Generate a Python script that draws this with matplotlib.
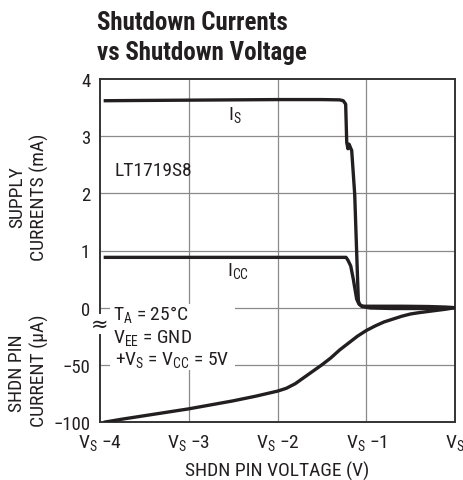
import matplotlib
matplotlib.use("Agg")
import matplotlib.pyplot as plt
from matplotlib.patches import Rectangle
from matplotlib import font_manager as fm
import matplotlib.transforms as mtransforms

_names = {f.name for f in fm.fontManager.ttflist}
FONT = "Liberation Sans"
for cand in ["Nimbus Sans Narrow", "Liberation Sans Narrow", "Arial Narrow",
             "Roboto Condensed", "Archivo Narrow", "PT Sans Narrow",
             "Barlow Semi Condensed"]:
    if cand in _names:
        FONT = cand
        break
plt.rcParams["font.family"] = [FONT, "DejaVu Sans"]
plt.rcParams["mathtext.default"] = "regular"
plt.rcParams["mathtext.fontset"] = "custom"
plt.rcParams["mathtext.rm"] = FONT
plt.rcParams["mathtext.it"] = FONT
plt.rcParams["mathtext.bf"] = FONT + ":bold"

# ---------------- data ----------------
# Supply current I_S (mA) vs SHDN pin voltage (V relative to V_S)
v_is = [-3.94, -3.5, -3.0, -2.5, -2.0, -1.5, -1.30, -1.259, -1.232, -1.220, -1.206,
        -1.194, -1.164, -1.13, -1.10, -1.089, -1.075, -1.06, -1.045, -1.02, -0.9,
        -0.6, -0.3, -0.1, 0.0]
is_ma = [3.62, 3.625, 3.63, 3.635, 3.64, 3.64, 3.635, 3.62, 3.56, 2.89, 2.78,
         2.86, 2.75, 1.98, 0.60, 0.12, 0.06, 0.04, 0.03, 0.025, 0.025,
         0.025, 0.02, 0.01, 0.0]

# Supply current I_CC (mA)
v_icc = [-3.94, -3.0, -2.0, -1.5, -1.228, -1.206, -1.175, -1.146, -1.108, -1.083,
         -1.048, -0.958, -0.7, -0.4, -0.2, 0.0]
icc_ma = [0.88, 0.88, 0.88, 0.88, 0.88, 0.83, 0.73, 0.50, 0.15, 0.065,
          0.02, -0.005, -0.015, -0.015, -0.01, 0.0]

# SHDN pin current (uA)
v_shdn = [-3.94, -3.75, -3.5, -3.25, -3.0, -2.75, -2.5, -2.25, -2.0, -1.9, -1.8,
          -1.7, -1.6, -1.5, -1.4, -1.3, -1.2, -1.1, -1.0, -0.9, -0.8, -0.7,
          -0.6, -0.5, -0.4, -0.3, -0.2, -0.1, 0.0]
shdn_ua = [-100, -97.5, -94.5, -91.5, -88.5, -85, -81.5, -77.5, -73, -70.5, -66.5,
           -61, -55.5, -50, -44, -37, -31, -25, -20, -16, -12.5, -10,
           -7.5, -5.5, -4.3, -3.3, -2.3, -1.3, 0]

UA_PER_UNIT = 50.0  # lower panel: 1 grid division = 50 uA

x_ticks = [-4, -3, -2, -1, 0]
x_ticklabels = [r"V$_S$ −4", r"V$_S$ −3", r"V$_S$ −2", r"V$_S$ −1", r"V$_S$"]
y_ticks = [4, 3, 2, 1, 0, -1, -2]
y_ticklabels = ["4", "3", "2", "1", "0", "−50", "−100"]

# ---------------- figure ----------------
W, H = 464, 481
fig = plt.figure(figsize=(W / 100, H / 100), dpi=100)
ax = fig.add_axes([100 / W, 58 / H, 355 / W, 343 / H])

INK = "#231f20"
GRID = "#8a8a8a"

ax.set_xlim(-4, 0)
ax.set_ylim(-2, 4)
ax.set_xticks(x_ticks)
ax.set_xticklabels(x_ticklabels)
ax.set_yticks(y_ticks)
ax.set_yticklabels(y_ticklabels)
ax.tick_params(axis="both", length=0, colors=INK)
ax.tick_params(axis="y", pad=7, labelsize=13.5)
ax.tick_params(axis="x", pad=7, labelsize=14)

for gx in [-3, -2, -1]:
    ax.axvline(gx, color=GRID, lw=0.9, zorder=1)
for gy in [3, 2, 1, 0, -1]:
    ax.axhline(gy, color=GRID, lw=0.9, zorder=1)

for sp in ax.spines.values():
    sp.set_color("#333333")
    sp.set_linewidth(1.4)

# white mask behind the conditions text
ax.add_patch(Rectangle((-3.887, -1.09), 1.408, 1.154, facecolor="white",
                       edgecolor="none", zorder=2))

ax.plot(v_is, is_ma, color=INK, lw=2.4, zorder=4, solid_joinstyle="round")
ax.plot(v_icc, icc_ma, color=INK, lw=2.4, zorder=4, solid_joinstyle="round")
ax.plot(v_shdn, [u / UA_PER_UNIT for u in shdn_ua], color=INK, lw=2.4, zorder=4)

fs = 14
ax.text(-2.558, 3.30, r"I$_S$", fontsize=fs, color=INK, ha="left", va="baseline", zorder=5)
ax.text(-2.569, 0.572, r"I$_{CC}$", fontsize=fs, color=INK, ha="left", va="baseline", zorder=5)
ax.text(-3.831, 2.32, "LT1719S8", fontsize=fs, color=INK, ha="left", va="baseline", zorder=5)
ax.text(-3.854, -0.198, r"T$_A$ = 25°C", fontsize=fs, color=INK, ha="left", va="baseline", zorder=5)
ax.text(-3.854, -0.60, r"V$_{EE}$ = GND", fontsize=fs, color=INK, ha="left", va="baseline", zorder=5)
ax.text(-3.831, -0.985, r"+V$_S$ = V$_{CC}$ = 5V", fontsize=fs, color=INK, ha="left", va="baseline", zorder=5)

# axis break mark
trans = mtransforms.blended_transform_factory(ax.transAxes, ax.transData)
ax.text(0, -0.285, "≈", transform=trans, fontsize=15, color=INK, ha="center",
        va="center", family="DejaVu Sans", zorder=6, clip_on=False,
        bbox=dict(facecolor="white", edgecolor="none", pad=0))

# axis labels
lfs = 14
fig.text(17.5 / W, 1 - 197 / H, "SUPPLY", rotation=90, fontsize=lfs, color=INK,
         ha="center", va="center")
fig.text(39 / W, 1 - 197 / H, "CURRENTS (mA)", rotation=90, fontsize=lfs, color=INK,
         ha="center", va="center")
fig.text(17.5 / W, 1 - 373 / H, "SHDN PIN", rotation=90, fontsize=lfs, color=INK,
         ha="center", va="center")
fig.text(39 / W, 1 - 371 / H, "CURRENT (µA)", rotation=90, fontsize=lfs, color=INK,
         ha="center", va="center")
fig.text(277 / W, 1 - 471 / H, "SHDN PIN VOLTAGE (V)", fontsize=lfs, color=INK,
         ha="center", va="center")

# title
fig.text(97 / W, 1 - 30 / H, "Shutdown Currents", fontsize=18, fontweight="bold",
         color=INK, ha="left", va="baseline")
fig.text(97 / W, 1 - 60 / H, "vs Shutdown Voltage", fontsize=18, fontweight="bold",
         color=INK, ha="left", va="baseline")

fig.savefig("out.png", dpi=100)
